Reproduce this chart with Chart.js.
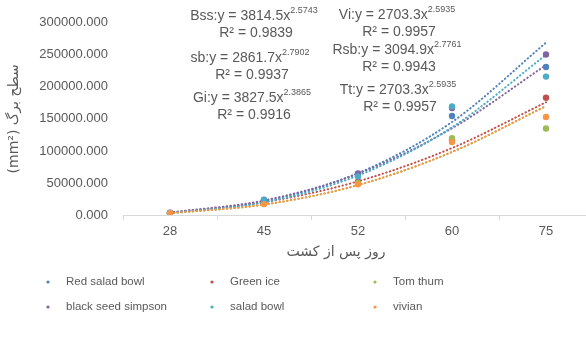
<!DOCTYPE html>
<html><head><meta charset="utf-8">
<script src="https://cdn.jsdelivr.net/npm/chart.js@4.4.0/dist/chart.umd.min.js"></script>
<style>
html,body{margin:0;padding:0;background:#fff;overflow:hidden;}
#wrap{width:586px;height:338px;overflow:hidden;position:relative;}
canvas{display:block;}
</style></head>
<body>
<div id="wrap"><canvas id="c" width="600" height="338"></canvas></div>
<script>
const categories = ['28', '45', '52', '60', '75'];
const seriesNames = ['Red salad bowl', 'Green ice', 'Tom thum', 'black seed simpson', 'salad bowl', 'vivian'];
const redSaladBowl = [3000, 24000, 64000, 154500, 231000];
const greenIce = [3200, 19000, 52000, 117000, 183000];
const tomThum = [2900, 18000, 50000, 120000, 135000];
const blackSeedSimpson = [3500, 22000, 65000, 167000, 250500];
const saladBowl = [2800, 23000, 60000, 169500, 216000];
const vivian = [3000, 17000, 48000, 114000, 153000];

// trendlines (power fits shown in the chart)
const trendRsb = [3100, 21200, 65300, 145200, 269000];
const trendGi = [3800, 20000, 52600, 104500, 176000];
const trendTt = [2700, 16300, 46700, 98400, 170000];
const trendBss = [3800, 22700, 64500, 135400, 234000];
const trendSb = [2900, 19800, 61600, 136900, 250000];
const trendVi = [2700, 16300, 46700, 98400, 170000];

const yTicks = [0, 50000, 100000, 150000, 200000, 250000, 300000];
const eqNames = ['Bss', 'sb', 'Gi', 'Vi', 'Rsb', 'Tt'];
const eqCoef = ['3814.5', '2861.7', '3827.5', '2703.3', '3094.9', '2703.3'];
const eqExp = ['2.5743', '2.7902', '2.3865', '2.5935', '2.7761', '2.5935'];
const eqR2 = ['0.9839', '0.9937', '0.9916', '0.9957', '0.9943', '0.9957'];
const yTitle = '(mm²) سطح برگ';
const xTitle = 'روز پس از کشت';

const colors = ['#4F81BD', '#C0504D', '#9BBB59', '#8064A2', '#4BACC6', '#F79646'];
const seriesData = [redSaladBowl, greenIce, tomThum, blackSeedSimpson, saladBowl, vivian];
const trendData = [trendRsb, trendGi, trendTt, trendBss, trendSb, trendVi];
const textColor = '#595959';
const FONT = '"Liberation Sans", Arial, sans-serif';

const datasets = [];
seriesData.forEach((d, i) => {
  datasets.push({
    label: seriesNames[i], data: d, showLine: false,
    pointRadius: 3.2, pointHoverRadius: 3.2, pointBorderWidth: 0,
    pointBackgroundColor: colors[i], borderColor: colors[i], backgroundColor: colors[i],
    order: 10 - i
  });
});
trendData.forEach((d, i) => {
  datasets.push({
    label: seriesNames[i] + ' trend', data: d, showLine: true, pointRadius: 0,
    borderColor: colors[i], borderWidth: 2, borderDash: [0.5, 3.3], borderCapStyle: 'round',
    cubicInterpolationMode: 'monotone', fill: false, order: 30 - i
  });
});

const eqPos = [[254, 16], [250, 58], [252, 98], [397, 15], [397, 50], [398, 90]];

const decor = {
  id: 'decor',
  afterDraw(chart) {
    const ctx = chart.ctx;
    ctx.save();
    ctx.fillStyle = textColor;
    ctx.textBaseline = 'middle';
    // equations
    eqNames.forEach((n, i) => {
      const [cx, cy] = eqPos[i];
      const base = n + ':y = ' + eqCoef[i] + 'x';
      ctx.font = '14px ' + FONT;
      const wb = ctx.measureText(base).width;
      ctx.font = '9px ' + FONT;
      const we = ctx.measureText(eqExp[i]).width;
      const x0 = cx - (wb + we) / 2;
      ctx.textAlign = 'left';
      ctx.font = '14px ' + FONT;
      ctx.fillText(base, x0, cy);
      ctx.font = '9px ' + FONT;
      ctx.fillText(eqExp[i], x0 + wb, cy - 5);
      ctx.font = '14px ' + FONT;
      ctx.textAlign = 'center';
      ctx.fillText('R² = ' + eqR2[i], cx + 2, cy + 17);
    });
    // x title
    ctx.font = '14px "DejaVu Sans", sans-serif';
    ctx.textAlign = 'center';
    ctx.fillText(xTitle, 336, 252);
    // legend
    const colX = [48, 212, 375];
    const rowY = [282, 307];
    ctx.font = '11.5px ' + FONT;
    ctx.textAlign = 'left';
    seriesNames.forEach((n, i) => {
      const x = colX[i % 3], y = rowY[Math.floor(i / 3)];
      ctx.fillStyle = colors[i];
      ctx.beginPath(); ctx.arc(x, y, 1.6, 0, Math.PI * 2); ctx.fill();
      ctx.fillStyle = textColor;
      ctx.fillText(n, x + 18, y);
    });
    ctx.restore();
  }
};

new Chart(document.getElementById('c'), {
  type: 'line',
  data: { labels: categories, datasets },
  plugins: [decor],
  options: {
    responsive: false, animation: false, devicePixelRatio: 1,
    layout: { padding: { top: 16, right: 7, bottom: 0, left: 0 } },
    plugins: { legend: { display: false }, tooltip: { enabled: false } },
    scales: {
      x: {
        type: 'category', offset: true,
        grid: { offset: true, drawOnChartArea: false, drawTicks: true, tickLength: 5, color: '#D9D9D9' },
        border: { display: true, color: '#D9D9D9' },
        ticks: { color: textColor, font: { size: 13, family: FONT }, padding: 4, maxRotation: 0 },
        afterFit(s) { s.height = 123; }
      },
      y: {
        min: 0, max: 300000,
        afterBuildTicks(s) { s.ticks = yTicks.map(v => ({ value: v })); },
        grid: { display: false, drawTicks: false },
        border: { display: false },
        ticks: { color: textColor, font: { size: 13, family: FONT }, padding: 15,
          callback: v => Number(v).toFixed(3) },
        title: { display: true, text: yTitle, color: textColor,
          font: { size: 14, family: '"DejaVu Sans", sans-serif' }, padding: { top: 6, bottom: 0 } },
        afterFit(s) { s.width = 123; }
      }
    }
  }
});
</script>
</body></html>
